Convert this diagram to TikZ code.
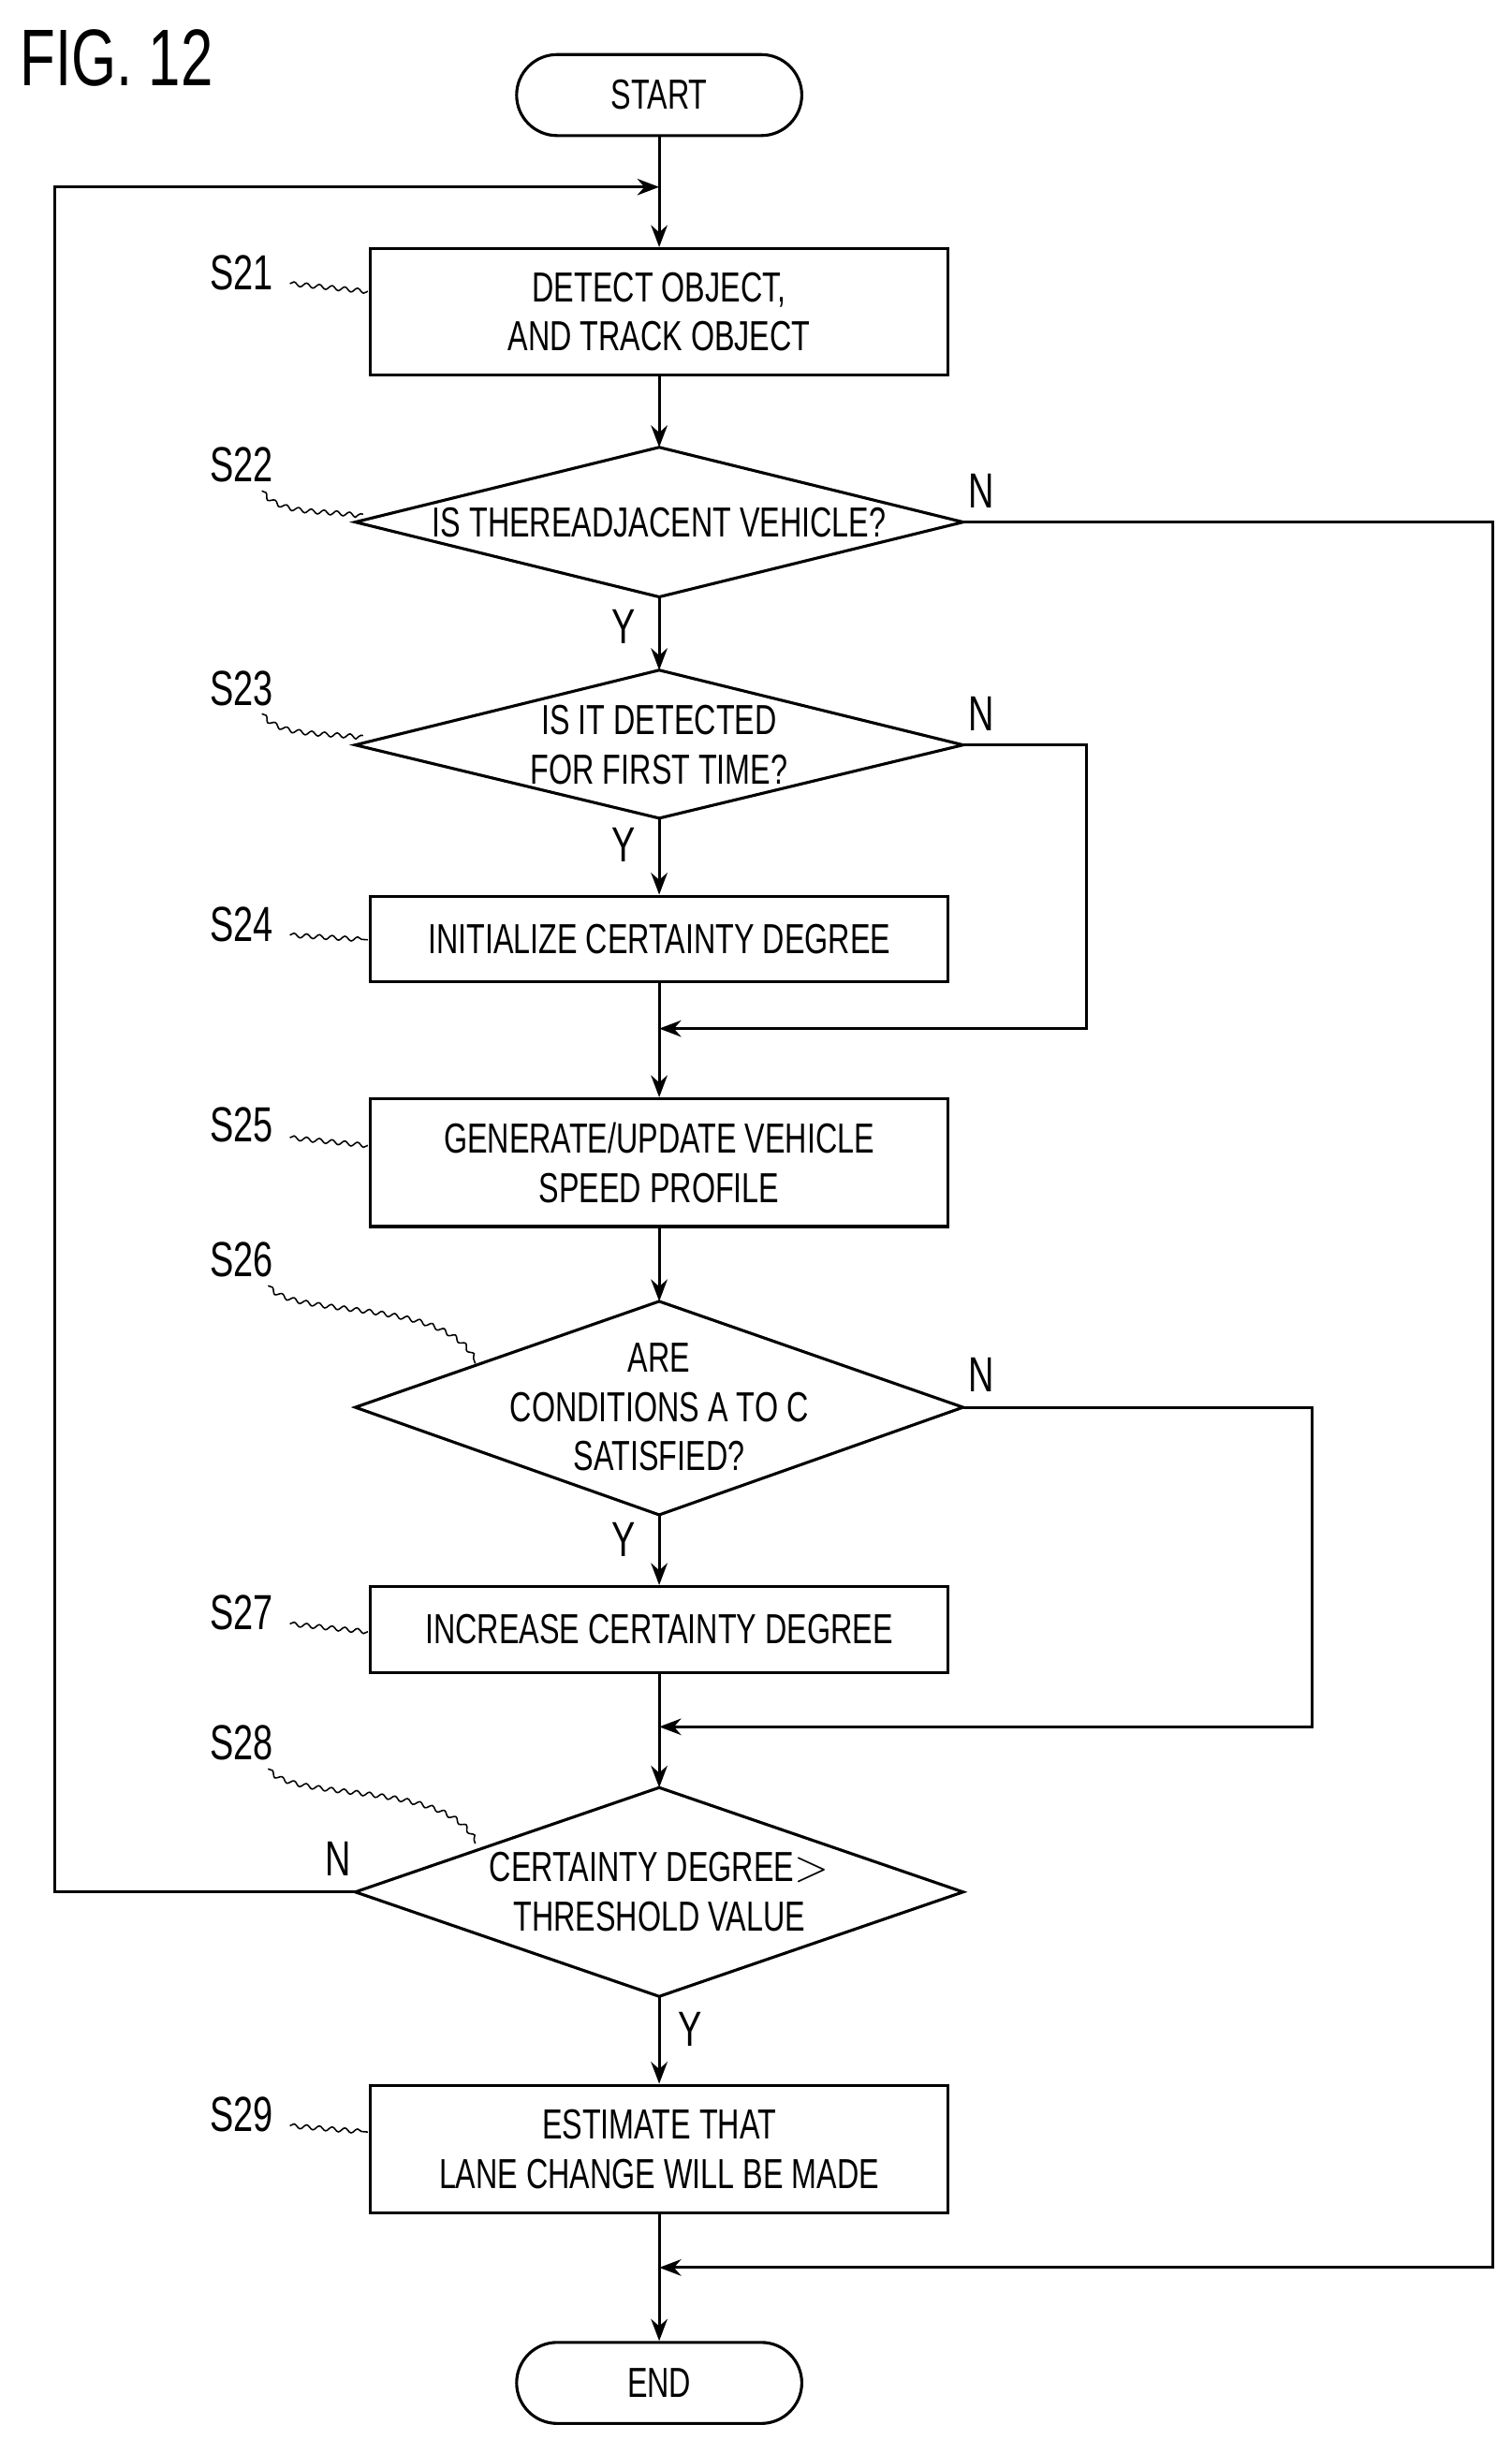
\documentclass[tikz,border=0pt]{standalone}
\usepackage{fontspec}
\setmainfont{Liberation Sans}[FakeStretch=0.72]
\usetikzlibrary{shapes.geometric,arrows.meta,decorations.pathmorphing}
\begin{document}
\begin{tikzpicture}[x=0.03cm,y=-0.03cm,line width=1.6pt,
  every node/.style={font=\fontsize{23}{27}\selectfont},
  box/.style={draw,minimum width=371*0.03cm,align=center,inner sep=0},
  dia/.style={draw,diamond,aspect=4,align=center,inner sep=0},
  term/.style={draw,rounded rectangle,minimum width=183*0.03cm,minimum height=52*0.03cm},
  arr/.style={-{Stealth[length=12pt,width=9pt]}},
  sq/.style={line width=0.8pt,decorate,decoration={snake,amplitude=1.2pt,segment length=7pt}},
  lab/.style={font=\fontsize{27}{30}\selectfont}]
\useasboundingbox (0,0) rectangle (970,1565);
\node[anchor=west,font=\fontsize{44}{48}\selectfont] (fig) at (8,37) {FIG. 12};
\node[draw,rounded corners=26*0.03cm,minimum width=183*0.03cm,minimum height=52*0.03cm] (start) at (423,61) {START};
\node[box,minimum height=81*0.03cm] (s21) at (423,200) {DETECT OBJECT,\\AND TRACK OBJECT};
\draw (423,335) coordinate (c22);
\path (228,335) coordinate (l22) (618,335) coordinate (r22) (423,287) coordinate (t22) (423,383) coordinate (b22);
\draw (l22)--(t22)--(r22)--(b22)--cycle;
\node (s22) at (c22) {IS THERE\\ADJACENT VEHICLE?};
\path (228,478) coordinate (l23) (618,478) coordinate (r23) (423,430) coordinate (t23) (423,525) coordinate (b23);
\draw (l23)--(t23)--(r23)--(b23)--cycle;
\node[align=center] (s23) at (423,478) {IS IT DETECTED\\FOR FIRST TIME?};
\node[box,minimum height=55*0.03cm] (s24) at (423,602.5) {INITIALIZE CERTAINTY DEGREE};
\node[box,minimum height=82*0.03cm] (s25) at (423,746) {GENERATE/UPDATE VEHICLE\\SPEED PROFILE};
\path (228,903) coordinate (l26) (618,903) coordinate (r26) (423,835) coordinate (t26) (423,972) coordinate (b26);
\draw (l26)--(t26)--(r26)--(b26)--cycle;
\node[align=center] (s26) at (423,903) {ARE\\CONDITIONS A TO C\\SATISFIED?};
\node[box,minimum height=55*0.03cm] (s27) at (423,1045.5) {INCREASE CERTAINTY DEGREE};
\path (228,1214) coordinate (l28) (618,1214) coordinate (r28) (423,1147) coordinate (t28) (423,1281) coordinate (b28);
\draw (l28)--(t28)--(r28)--(b28)--cycle;
\node[align=center] (s28) at (423,1214) {CERTAINTY DEGREE$>$\\THRESHOLD VALUE};
\node[box,minimum height=82*0.03cm] (s29) at (423,1379) {ESTIMATE THAT\\LANE CHANGE WILL BE MADE};
\node[draw,rounded corners=26*0.03cm,minimum width=183*0.03cm,minimum height=52*0.03cm] (end) at (423,1529) {END};
% junctions
\coordinate (j0) at (423,120);
\coordinate (j1) at (423,660);
\coordinate (j2) at (423,1108);
\coordinate (j3) at (423,1455);
% main flow
\draw (start.south)--(j0);
\draw[arr] (j0)--(s21.north);
\draw[arr] (s21.south)--(t22);
\draw[arr] (b22)--(t23);
\draw[arr] (b23)--(s24.north);
\draw (s24.south)--(j1);
\draw[arr] (j1)--(s25.north);
\draw[arr] (s25.south)--(t26);
\draw[arr] (b26)--(s27.north);
\draw (s27.south)--(j2);
\draw[arr] (j2)--(t28);
\draw[arr] (b28)--(s29.north);
\draw (s29.south)--(j3);
\draw[arr] (j3)--(end.north);
% N branches
\draw[arr] (r22)--(958,335)--(958,1455)--(j3);
\draw[arr] (r23)--(697,478)--(697,660)--(j1);
\draw[arr] (r26)--(842,903)--(842,1108)--(j2);
\draw[arr] (l28)--(35,1214)--(35,120)--(j0);
% Y/N labels
\node[lab] (y22) at (400,402) {Y};
\node[lab] (y23) at (400,542) {Y};
\node[lab] (y26) at (400,988) {Y};
\node[lab] (y28) at (443,1302) {Y};
\node[lab] (n22) at (630,315) {N};
\node[lab] (n23) at (630,458) {N};
\node[lab] (n26) at (630,882) {N};
\node[lab] (n28) at (217,1193) {N};
% step labels
\node[lab] (l21) at (155,175) {S21};
\node[lab] (l22n) at (155,298) {S22};
\node[lab] (l23n) at (155,442) {S23};
\node[lab] (l24) at (155,593) {S24};
\node[lab] (l25) at (155,722) {S25};
\node[lab] (l26n) at (155,808) {S26};
\node[lab] (l27) at (155,1035) {S27};
\node[lab] (l28n) at (155,1118) {S28};
\node[lab] (l29) at (155,1357) {S29};
\draw[sq] (186,182)--(236,187);
\draw[sq] (168,315) .. controls (180,330) and (210,325) .. (233,330);
\draw[sq] (168,458) .. controls (180,472) and (210,468) .. (233,472);
\draw[sq] (186,600)--(236,603);
\draw[sq] (186,730)--(236,735);
\draw[sq] (172,825) .. controls (190,845) and (290,830) .. (305,875);
\draw[sq] (186,1042)--(236,1047);
\draw[sq] (172,1135) .. controls (190,1155) and (290,1140) .. (305,1183);
\draw[sq] (186,1364)--(236,1368);
\end{tikzpicture}
\end{document}
